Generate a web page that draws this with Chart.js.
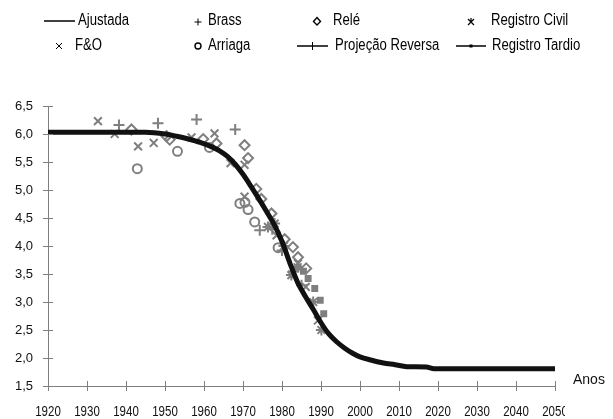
<!DOCTYPE html>
<html>
<head>
<meta charset="utf-8">
<script src="https://cdn.jsdelivr.net/npm/chart.js@4.4.1/dist/chart.umd.min.js"></script>
<style>
  html, body { margin: 0; padding: 0; background: #fff; }
  #wrap { width: 613px; height: 419px; }
</style>
</head>
<body>
<div id="wrap"><canvas id="tfr"></canvas></div>
<script>
// curva ajustada (TFT)
const ajustadaAnos = [1920, 1945, 1950, 1953, 1956, 1959, 1962, 1964, 1966, 1968, 1970, 1972, 1974, 1976, 1978, 1980, 1982, 1984, 1986, 1988, 1990, 1992, 1994, 1996, 1998, 2000, 2003, 2006, 2009, 2012, 2017, 2019, 2050];
const ajustadaTFT  = [6.03, 6.03, 6.00, 5.96, 5.91, 5.85, 5.77, 5.70, 5.60, 5.46, 5.28, 5.07, 4.85, 4.62, 4.38, 4.08, 3.70, 3.35, 3.10, 2.87, 2.63, 2.43, 2.29, 2.18, 2.09, 2.02, 1.96, 1.91, 1.88, 1.845, 1.84, 1.81, 1.81];

// estimativas
const foAnos = [1932.8, 1937.1, 1943.1, 1947.1, 1956.8, 1962.7, 1966.8, 1970.4, 1970.4, 1978.6, 1984.1, 1986.1, 1989.2];
const foTFT  = [6.23, 6.00, 5.78, 5.84, 5.94, 6.01, 5.48, 5.45, 4.88, 4.19, 3.69, 3.27, 2.67];

const brassAnos = [1938.2, 1948.2, 1958.1, 1968.0];
const brassTFT  = [6.16, 6.19, 6.26, 6.08];

const releAnos = [1941.4, 1950.4, 1951.2, 1959.8, 1963.2, 1970.4, 1971.3, 1973.4, 1974.7, 1977.3, 1980.7, 1982.8, 1984.1, 1986.2];
const releTFT  = [6.08, 5.96, 5.90, 5.91, 5.83, 5.80, 5.57, 5.02, 4.84, 4.58, 4.12, 3.98, 3.80, 3.60];

const arriagaAnos = [1942.9, 1953.2, 1961.4, 1969.2, 1970.5, 1971.3, 1973.0, 1979.0];
const arriagaTFT  = [5.38, 5.69, 5.76, 4.76, 4.78, 4.65, 4.43, 3.97];

const civilAnos = [1976.4, 1978.1, 1980.5, 1982.4, 1984.0, 1988.0, 1990.1];
const civilTFT  = [4.34, 4.40, 4.00, 3.48, 3.62, 3.00, 2.50];

const reversaAnos = [1974.3, 1977.5, 1980.0, 1983.0, 1985.0];
const reversaTFT  = [4.28, 4.30, 3.92, 3.55, 3.30];

const tardioAnos = [1985.5, 1986.7, 1988.4, 1989.8, 1990.7];
const tardioTFT  = [3.55, 3.42, 3.24, 3.03, 2.79];

const anosTicks = [1920, 1930, 1940, 1950, 1960, 1970, 1980, 1990, 2000, 2010, 2020, 2030, 2040, 2050];
const tftTicks  = [1.5, 2.0, 2.5, 3.0, 3.5, 4.0, 4.5, 5.0, 5.5, 6.0, 6.5];

const pts = (xs, ys) => xs.map((x, i) => ({ x: x, y: ys[i] }));
const cinza = '#7f7f7f';
const sans = '"Liberation Sans", Arial, sans-serif';

function serie(label, xs, ys, style, radius, fill) {
  return {
    label: label,
    data: pts(xs, ys),
    showLine: false,
    pointStyle: style,
    pointRadius: radius,
    pointBorderColor: cinza,
    pointBackgroundColor: fill ? cinza : 'rgba(0,0,0,0)',
    pointBorderWidth: 2,
    borderColor: cinza,
    backgroundColor: cinza
  };
}

// texto condensado (imita Arial Narrow)
function narrowText(c, txt, x, y, align) {
  c.save();
  c.translate(x, y);
  c.scale(0.82, 1);
  c.textAlign = align || 'left';
  c.fillText(txt, 0, 0);
  c.restore();
}

// eixos com marcas cruzando a linha + rótulos de anos + legenda + "Anos"
const extras = {
  id: 'extras',
  afterDraw(chart) {
    const c = chart.ctx, xs = chart.scales.x, ys = chart.scales.y;
    c.save();
    c.strokeStyle = cinza;
    c.lineWidth = 1;
    const x0 = xs.getPixelForValue(1920), y0 = ys.getPixelForValue(1.5);
    tftTicks.forEach(v => {
      const y = Math.round(ys.getPixelForValue(v)) + 0.5;
      c.beginPath(); c.moveTo(x0 - 5, y); c.lineTo(x0 + 5, y); c.stroke();
    });
    anosTicks.forEach(v => {
      const x = Math.round(xs.getPixelForValue(v)) + 0.5;
      c.beginPath(); c.moveTo(x, y0 - 5); c.lineTo(x, y0 + 5); c.stroke();
    });

    c.fillStyle = '#111';
    c.textBaseline = 'middle';

    // rótulos do eixo x (o último aparece cortado no original)
    c.save();
    c.beginPath(); c.rect(0, 395, 565, 24); c.clip();
    c.font = '14px ' + sans;
    anosTicks.forEach(v => narrowText(c, String(v), xs.getPixelForValue(v), 412, 'center'));
    c.restore();

    c.font = '14px ' + sans;
    c.textAlign = 'left';
    c.fillText('Anos', 573, 380);

    // legenda
    c.font = '16px ' + sans;
    c.strokeStyle = '#000';
    c.fillStyle = '#000';
    const r1 = 21, r2 = 46;
    const line = (a, b, y) => { c.lineWidth = 1.5; c.beginPath(); c.moveTo(a, y); c.lineTo(b, y); c.stroke(); };
    line(44, 75, r1); narrowText(c, 'Ajustada', 78, r1);
    c.lineWidth = 1;
    c.beginPath(); c.moveTo(56, r2 - 3); c.lineTo(62, r2 + 3); c.moveTo(62, r2 - 3); c.lineTo(56, r2 + 3); c.stroke();
    narrowText(c, 'F&O', 75, r2);
    c.beginPath(); c.moveTo(194.5, r1 + 1); c.lineTo(201.5, r1 + 1); c.moveTo(198, r1 - 2.5); c.lineTo(198, r1 + 4.5); c.stroke();
    narrowText(c, 'Brass', 208, r1);
    c.lineWidth = 1.4;
    c.beginPath(); c.arc(198, r2, 3, 0, Math.PI * 2); c.stroke();
    narrowText(c, 'Arriaga', 208, r2);
    c.beginPath(); c.moveTo(317, r1 - 3.5); c.lineTo(320.5, r1 + 0.5); c.lineTo(317, r1 + 4); c.lineTo(313.5, r1 + 0.5); c.closePath(); c.stroke();
    narrowText(c, 'Relé', 333, r1);
    line(297, 328, r2);
    c.lineWidth = 1; c.beginPath(); c.moveTo(312.5, r2 - 4); c.lineTo(312.5, r2 + 4); c.stroke();
    narrowText(c, 'Projeção Reversa', 335, r2);
    c.lineWidth = 1.2;
    c.beginPath();
    c.moveTo(468, r1 - 2); c.lineTo(474, r1 + 4); c.moveTo(474, r1 - 2); c.lineTo(468, r1 + 4);
    c.moveTo(471, r1 - 3); c.lineTo(471, r1 + 1); c.stroke();
    narrowText(c, 'Registro Civil', 491, r1);
    line(456, 486, r2);
    c.fillRect(469.5, r2 - 1.5, 3, 3);
    narrowText(c, 'Registro Tardio', 492, r2);
    c.restore();
  }
};

new Chart(document.getElementById('tfr'), {
  type: 'scatter',
  data: {
    datasets: [
      {
        label: 'Ajustada',
        data: pts(ajustadaAnos, ajustadaTFT),
        showLine: true,
        borderColor: '#111',
        borderWidth: 5,
        pointRadius: 0,
        cubicInterpolationMode: 'monotone',
        fill: false
      },
      serie('F&O', foAnos, foTFT, 'crossRot', 5.5, false),
      serie('Brass', brassAnos, brassTFT, 'cross', 5.5, false),
      serie('Relé', releAnos, releTFT, 'rectRot', 5, false),
      serie('Arriaga', arriagaAnos, arriagaTFT, 'circle', 4.5, false),
      serie('Registro Civil', civilAnos, civilTFT, 'star', 5.5, false),
      serie('Projeção Reversa', reversaAnos, reversaTFT, 'cross', 5.5, false),
      serie('Registro Tardio', tardioAnos, tardioTFT, 'rect', 3.5, true)
    ]
  },
  options: {
    responsive: true,
    maintainAspectRatio: false,
    animation: false,
    layout: { padding: { top: 106, right: 58, left: 0, bottom: 0 } },
    plugins: { legend: { display: false }, tooltip: { enabled: false } },
    scales: {
      x: {
        type: 'linear',
        min: 1920,
        max: 2050,
        afterFit: s => { s.height = 33; },
        afterBuildTicks: s => { s.ticks = anosTicks.map(v => ({ value: v })); },
        grid: { display: false, drawTicks: false },
        border: { display: true, color: cinza, width: 1 },
        ticks: { display: false }
      },
      y: {
        min: 1.5,
        max: 6.5,
        afterFit: s => { s.width = 48; },
        afterBuildTicks: s => { s.ticks = tftTicks.map(v => ({ value: v })); },
        grid: { display: false, drawTicks: false },
        border: { display: true, color: cinza, width: 1 },
        ticks: {
          padding: 15,
          color: '#111',
          font: { family: sans, size: 13 },
          callback: v => v.toFixed(1).replace('.', ',')
        }
      }
    }
  },
  plugins: [extras]
});
</script>
</body>
</html>
